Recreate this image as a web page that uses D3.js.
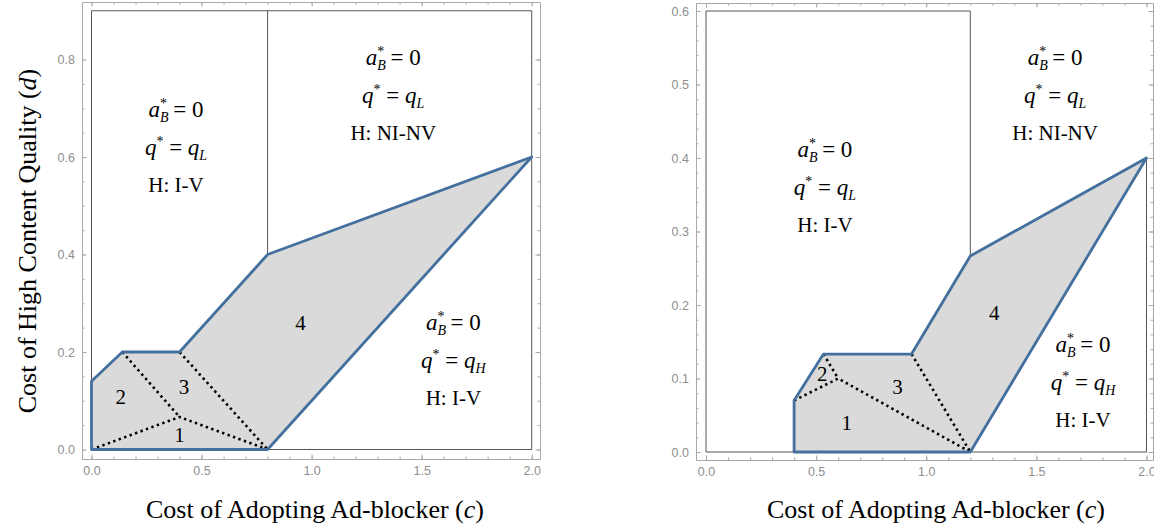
<!DOCTYPE html>
<html lang="en">
<head>
<meta charset="UTF-8">
<script src="https://cdn.jsdelivr.net/npm/d3@7"></script>
<title>Ad-blocker regions</title>
<style>
  body { margin: 0; background: #fff; }
  svg { display: block; }
</style>
</head>
<body>
<script>
// ---- data (c, d) ----
const leftBoundary = [[0, 0], [0, 0.14], [0.14, 0.2], [0.4, 0.2], [0.8, 0.4], [2, 0.6], [0.8, 0]]
const leftDotted = [
    [[0, 0], [0.4, 0.0667], [0.8, 0]],
    [[0.14, 0.2], [0.4, 0.0667]],
    [[0.4, 0.2], [0.8, 0]]
]
const leftEdges = [
    [[0, 0.14], [0, 0.9], [2, 0.9], [2, 0], [0.8, 0]],
    [[0.8, 0.4], [0.8, 0.9]]
]
const leftNumbers = [
    {t: "1", c: 0.40, d: 0.030},
    {t: "2", c: 0.133, d: 0.108},
    {t: "3", c: 0.42, d: 0.129},
    {t: "4", c: 0.95, d: 0.259}
]
const leftRegions = [
    {c: 0.384, d: 0.682, q: "L", h: "H: I-V"},
    {c: 1.371, d: 0.789, q: "L", h: "H: NI-NV"},
    {c: 1.644, d: 0.245, q: "H", h: "H: I-V"}
]
const leftXTicks = [0, 0.5, 1, 1.5, 2]
const leftYTicks = [0, 0.2, 0.4, 0.6, 0.8]

const rightBoundary = [[0.4, 0], [0.4, 0.07], [0.5333, 0.1333], [0.9333, 0.1333], [1.2, 0.2667], [2, 0.4], [1.2, 0]]
const rightDotted = [
    [[0.4, 0.07], [0.6, 0.1], [1.2, 0]],
    [[0.5333, 0.1333], [0.6, 0.1]],
    [[0.9333, 0.1333], [1.2, 0]]
]
const rightEdges = [
    [[0.4, 0], [0, 0], [0, 0.6], [1.2, 0.6], [1.2, 0.2667]],
    [[1.2, 0], [2, 0], [2, 0.4]]
]
const rightNumbers = [
    {t: "1", c: 0.639, d: 0.039},
    {t: "2", c: 0.528, d: 0.106},
    {t: "3", c: 0.87, d: 0.089},
    {t: "4", c: 1.309, d: 0.189}
]
const rightRegions = [
    {c: 0.54, d: 0.402, q: "L", h: "H: I-V"},
    {c: 1.585, d: 0.526, q: "L", h: "H: NI-NV"},
    {c: 1.712, d: 0.136, q: "H", h: "H: I-V"}
]
const rightXTicks = [0, 0.5, 1, 1.5, 2]
const rightYTicks = [0, 0.1, 0.2, 0.3, 0.4, 0.5, 0.6]

const xLabel = "Cost of Adopting Ad-blocker ("
const yLabel = "Cost of High Content Quality ("

// ---- page ----
let width = 1154
let height = 529
let svg = d3.select("body").append("svg")
    .attr("width", width)
    .attr("height", height)

const blue = "#44709e"
const frameColor = "#a8a8a8"
const labelColor = "#8e8e8e"
const serif = "'Liberation Serif', 'Times New Roman', serif"

function drawPanel(p) {
    let x = d3.scaleLinear().domain([0, 2]).range(p.xRange)
    let y = d3.scaleLinear().domain(p.yDomain).range(p.yRange)
    let g = svg.append("g")

    let line = d3.line().x(d => x(d[0])).y(d => y(d[1]))

    // shaded region
    g.append("path")
        .attr("d", line(p.boundary) + "Z")
        .attr("fill", "#dadada")
        .attr("stroke", "none")

    // thin region edges
    g.selectAll(".edge").data(p.edges).enter().append("path")
        .attr("d", line)
        .attr("fill", "none")
        .attr("stroke", "#555")
        .attr("stroke-width", 1)

    g.selectAll(".dot").data(p.dotted).enter().append("path")
        .attr("d", line)
        .attr("fill", "none")
        .attr("stroke", "#000")
        .attr("stroke-width", 2.6)
        .attr("stroke-dasharray", "2.4,3.4")

    g.append("path")
        .attr("d", line(p.boundary) + "Z")
        .attr("fill", "none")
        .attr("stroke", blue)
        .attr("stroke-width", 2.8)
        .attr("stroke-linejoin", "round")

    // frame axes (same mapping, stretched to the frame)
    let f = p.frame
    let xf = x.copy().domain([x.invert(f.l), x.invert(f.r)]).range([f.l, f.r])
    let yf = y.copy().domain([y.invert(f.b), y.invert(f.t)]).range([f.b, f.t])
    let xMinor = d3.range(0, 2.001, 0.1)
    let yMinor = d3.range(0, p.yDomain[1] + 1e-6, p.yMinorStep)

    function axis(gen, scale, ticks, minor, tx, ty, labels, fmt) {
        let a = g.append("g").attr("transform", `translate(${tx},${ty})`)
        a.call(gen(scale).tickValues(minor).tickSize(-2.5).tickFormat(""))
        let b = g.append("g").attr("transform", `translate(${tx},${ty})`)
        b.call(gen(scale).tickValues(ticks).tickSizeInner(-4.5).tickSizeOuter(0)
            .tickPadding(7).tickFormat(labels ? fmt : ""))
        a.select(".domain").remove()
        g.selectAll("path.domain").attr("stroke", frameColor)
        g.selectAll(".tick line").attr("stroke", frameColor)
        b.selectAll("text")
            .attr("fill", labelColor)
            .style("font-family", "'Liberation Sans', Arial, sans-serif")
            .style("font-size", "12.5px")
    }
    axis(d3.axisBottom, xf, p.xTicks, xMinor, 0, f.b, true, d3.format(".1f"))
    axis(d3.axisTop, xf, p.xTicks, xMinor, 0, f.t, false)
    axis(d3.axisLeft, yf, p.yTicks, yMinor, f.l, 0, true, d3.format(".1f"))
    axis(d3.axisRight, yf, p.yTicks, yMinor, f.r, 0, false)

    // region numbers
    g.selectAll(".num").data(p.numbers).enter().append("text")
        .attr("x", d => x(d.c))
        .attr("y", d => y(d.d))
        .attr("text-anchor", "middle")
        .attr("dominant-baseline", "central")
        .style("font-family", serif)
        .style("font-size", "21px")
        .text(d => d.t)

    // region descriptions
    p.regions.forEach(r => {
        let cx = x(r.c), by = y(r.d)
        let t1 = g.append("text").attr("x", cx).attr("y", by)
            .attr("text-anchor", "middle")
            .style("font-family", serif).style("font-size", "23px")
        t1.append("tspan").style("font-style", "italic").text("a")
        t1.append("tspan").attr("dy", -9).style("font-size", "14px").text("*")
        t1.append("tspan").attr("dx", -7).attr("dy", 14).style("font-size", "14px")
            .style("font-style", "italic").text("B")
        t1.append("tspan").attr("dy", -5).text("\u2009= 0")

        let t2 = g.append("text").attr("x", cx).attr("y", by + 38)
            .attr("text-anchor", "middle")
            .style("font-family", serif).style("font-size", "23px")
        t2.append("tspan").style("font-style", "italic").text("q")
        t2.append("tspan").attr("dy", -9).style("font-size", "14px").text("*")
        t2.append("tspan").attr("dy", 9).text(" = ")
        t2.append("tspan").style("font-style", "italic").text("q")
        t2.append("tspan").attr("dy", 5).style("font-size", "14px")
            .style("font-style", "italic").text(r.q)

        g.append("text").attr("x", cx).attr("y", by + 75)
            .attr("text-anchor", "middle")
            .style("font-family", serif).style("font-size", "21px")
            .text(r.h)
    })

    // x axis title
    let xt = g.append("text")
        .attr("x", p.xTitle[0]).attr("y", p.xTitle[1])
        .attr("text-anchor", "middle")
        .style("font-family", serif).style("font-size", "26px")
    xt.append("tspan").text(xLabel)
    xt.append("tspan").style("font-style", "italic").text("c")
    xt.append("tspan").text(")")
}

drawPanel({
    xRange: [91.5, 531.7], yDomain: [0, 0.8], yRange: [449.5, 59.5], yMinorStep: 0.05,
    frame: {l: 82, r: 540, t: 2, b: 459},
    boundary: leftBoundary, dotted: leftDotted, edges: leftEdges,
    numbers: leftNumbers, regions: leftRegions,
    xTicks: leftXTicks, yTicks: leftYTicks, xTitle: [315, 518]
})

drawPanel({
    xRange: [706, 1146.5], yDomain: [0, 0.6], yRange: [452, 11], yMinorStep: 0.02,
    frame: {l: 696, r: 1153, t: 3, b: 460},
    boundary: rightBoundary, dotted: rightDotted, edges: rightEdges,
    numbers: rightNumbers, regions: rightRegions,
    xTicks: rightXTicks, yTicks: rightYTicks, xTitle: [936, 518]
})

// y axis title (left panel only)
let yt = svg.append("text")
    .attr("transform", "translate(36,241) rotate(-90)")
    .attr("text-anchor", "middle")
    .style("font-family", serif).style("font-size", "26px")
yt.append("tspan").text(yLabel)
yt.append("tspan").style("font-style", "italic").text("d")
yt.append("tspan").text(")")
</script>
</body>
</html>
